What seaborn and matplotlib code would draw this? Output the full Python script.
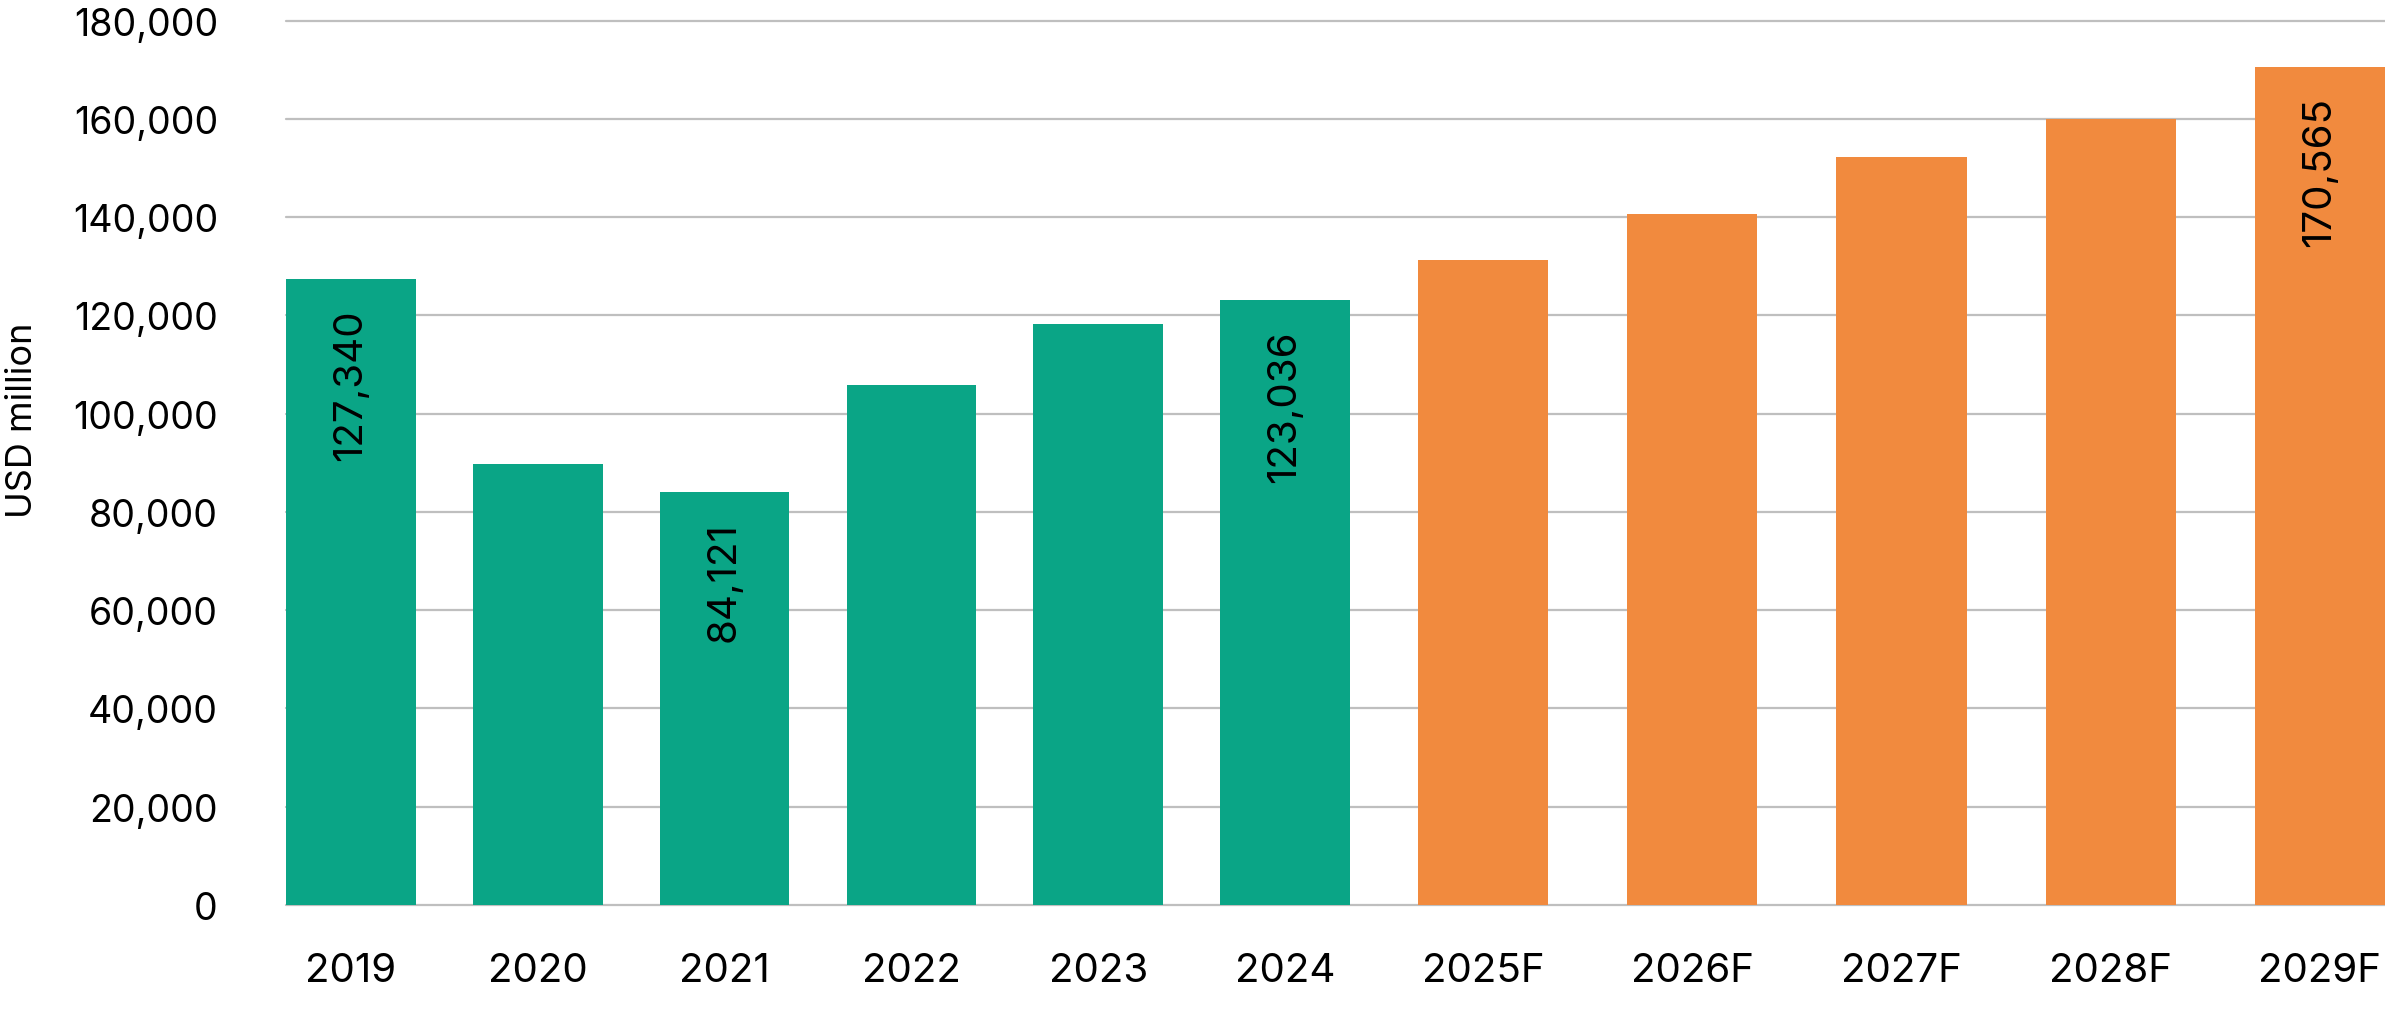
import matplotlib
matplotlib.use("Agg")
import matplotlib.pyplot as plt
import seaborn as sns
from matplotlib.ticker import FuncFormatter, MultipleLocator

# historical values (USD million)
years_hist = ["2019", "2020", "2021", "2022", "2023", "2024"]
values_hist = [127340, 89700, 84121, 105800, 118300, 123036]
labels_hist = ["127,340", "", "84,121", "", "", "123,036"]

# forecast values (USD million)
years_fcst = ["2025F", "2026F", "2027F", "2028F", "2029F"]
values_fcst = [131300, 140700, 152300, 160000, 170565]
labels_fcst = ["", "", "", "", "170,565"]

GREEN = "#0AA586"
ORANGE = "#F18A3E"
GRID = "#BFBFBF"
FS = 29

sns.set_style("white")
plt.rcParams["font.family"] = ["Inter", "DejaVu Sans"]

fig = plt.figure(figsize=(23.85, 10.2), dpi=100)
ax1 = fig.add_axes([0.11992, 0.11176, 0.45803, 0.86716])
ax2 = fig.add_axes([0.57795, 0.11176, 0.42205, 0.86716], sharey=ax1)

sns.barplot(x=years_hist, y=values_hist, color=GREEN, saturation=1, width=0.694, linewidth=0, ax=ax1)
sns.barplot(x=years_fcst, y=values_fcst, color=ORANGE, saturation=1, width=0.622, linewidth=0, ax=ax2)

ax1.set_xlim(-0.347, 5.5)
ax2.set_xlim(-0.5, 4.311)
ax1.set_ylim(0, 180000)

for ax, labels in [(ax1, labels_hist), (ax2, labels_fcst)]:
    ax.set_axisbelow(True)
    ax.yaxis.set_major_locator(MultipleLocator(20000))
    ax.yaxis.grid(True, color=GRID, lw=1.6)
    for gl in ax.get_ygridlines():
        gl.set_clip_on(False)
    sns.despine(ax=ax, left=True, bottom=True)
    ax.tick_params(axis="x", length=0, pad=34, labelsize=FS, colors="black")
    ax.tick_params(axis="y", length=0, pad=49, labelsize=27, colors="black")
    ax.set_xlabel("")
    ax.set_ylabel("")
    # value labels written inside the bar, near its top
    for patch, txt in zip(ax.patches, labels):
        if not txt:
            continue
        ax.annotate(txt, (patch.get_x() + patch.get_width() / 2, patch.get_height()),
                    xytext=(0, -21), textcoords="offset points",
                    rotation=90, ha="center", va="top", fontsize=FS, color="black")

ax1.yaxis.set_major_formatter(FuncFormatter(lambda v, p: f"{v:,.0f}"))
ax2.tick_params(axis="y", labelleft=False)

fig.text(23 / 2385, 1 - 420 / 1020, "USD million", rotation=90,
         ha="center", va="center", fontsize=26, color="black")

fig.savefig("out.png", dpi=100)
